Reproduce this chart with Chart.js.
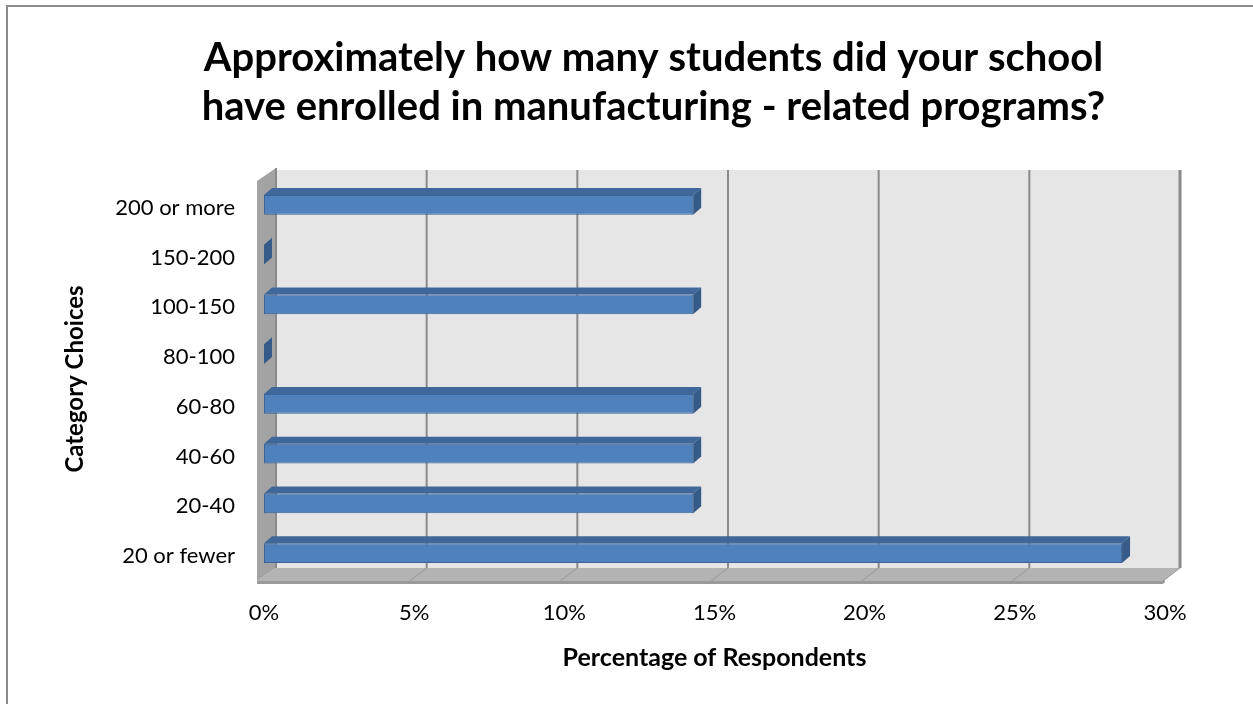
<!DOCTYPE html>
<html>
<head>
<meta charset="utf-8">
<script src="https://cdn.jsdelivr.net/npm/chart.js@4.4.1/dist/chart.umd.min.js"></script>
<style>
  html, body { margin: 0; padding: 0; background: #ffffff; }
  #wrap { width: 1253px; height: 704px; position: relative; }
</style>
</head>
<body>
<div id="wrap"><canvas id="chart" width="1253" height="704"></canvas></div>
<script>
// Survey answers, listed from the smallest enrolment band upwards
const categories = ['20 or fewer', '20-40', '40-60', '60-80', '80-100', '100-150', '150-200', '200 or more'];
const percentages = [28.57, 14.29, 14.29, 14.29, 0, 14.29, 0, 14.29];
const tickValues = [0, 5, 10, 15, 20, 25, 30];

const titleLines = ['Approximately how many students did your school',
                    'have enrolled in manufacturing - related programs?'];
const xTitle = 'Percentage of Respondents';
const yTitle = 'Category Choices';

const FONT = 'Lato, "Open Sans", sans-serif';

// Depth of the bars' top and side faces
const BAR_DX = 8, BAR_DY = 7;

// Excel-like 3D frame: back wall, left wall, floor and back-wall gridlines
const frame3d = {
  id: 'frame3d',
  beforeDraw(chart) {
    const { ctx, chartArea: a, scales: { x } } = chart;
    const back = v => x.getPixelForValue(v) + 12 + 3 * (v / 30);
    const bx0 = back(0), bx1 = back(30);
    const wTop = a.top - 10, wBot = a.bottom - 10;
    const fFront = a.bottom + 3;

    ctx.save();
    ctx.fillStyle = '#ffffff';
    ctx.fillRect(0, 0, chart.width, chart.height);

    // outer chart border
    ctx.strokeStyle = '#8c8c8c';
    ctx.lineWidth = 2;
    ctx.beginPath();
    ctx.moveTo(7, chart.height + 5);
    ctx.lineTo(7, 6);
    ctx.lineTo(chart.width + 5, 6);
    ctx.stroke();

    // back wall
    ctx.fillStyle = '#e6e6e6';
    ctx.fillRect(bx0, wTop, bx1 - bx0, wBot - wTop);

    // floor
    const fx0 = bx0 - 19, fx1 = bx1 - 17;
    ctx.fillStyle = '#b3b3b3';
    ctx.beginPath();
    ctx.moveTo(fx0, fFront);
    ctx.lineTo(bx0, wBot);
    ctx.lineTo(bx1, wBot);
    ctx.lineTo(fx1, fFront);
    ctx.closePath();
    ctx.fill();
    ctx.fillStyle = '#9a9a9a';
    ctx.beginPath();
    ctx.moveTo(fx0, fFront);
    ctx.lineTo(fx1, fFront);
    ctx.lineTo(fx1 + 2, fFront - 1);
    ctx.lineTo(fx1 + 2, fFront + 1);
    ctx.lineTo(fx1, fFront + 3);
    ctx.lineTo(fx0, fFront + 3);
    ctx.closePath();
    ctx.fill();

    // left wall
    ctx.fillStyle = '#a3a3a3';
    ctx.beginPath();
    ctx.moveTo(fx0, a.top + 1);
    ctx.lineTo(bx0, wTop - 2);
    ctx.lineTo(bx0, wBot);
    ctx.lineTo(fx0, fFront);
    ctx.closePath();
    ctx.fill();
    ctx.strokeStyle = '#8a8a8a';
    ctx.lineWidth = 2;
    ctx.beginPath();
    ctx.moveTo(bx0, wTop - 2);
    ctx.lineTo(bx0, wBot);
    ctx.stroke();

    // gridlines on the back wall, continued across the floor
    tickValues.forEach(v => {
      if (v === 0) return;
      const px = back(v);
      ctx.strokeStyle = '#8a8a8a';
      ctx.lineWidth = v === 30 ? 3 : 2;
      ctx.beginPath();
      ctx.moveTo(px, wTop);
      ctx.lineTo(px, wBot);
      ctx.stroke();
      ctx.lineWidth = 1;
      ctx.strokeStyle = '#9a9a9a';
      ctx.beginPath();
      ctx.moveTo(px, wBot);
      ctx.lineTo(px - 17, fFront);
      ctx.stroke();
    });
    ctx.restore();
  },
  afterDatasetsDraw(chart) {
    const { ctx } = chart;
    const meta = chart.getDatasetMeta(0);
    ctx.save();
    meta.data.forEach(bar => {
      const { x, y, base, height } = bar.getProps(['x', 'y', 'base', 'height'], true);
      const t = y - height / 2, b = y + height / 2;
      // top face
      ctx.fillStyle = '#3f679a';
      ctx.beginPath();
      ctx.moveTo(base, t);
      ctx.lineTo(base + BAR_DX, t - BAR_DY);
      ctx.lineTo(x + BAR_DX, t - BAR_DY);
      ctx.lineTo(x, t);
      ctx.closePath();
      ctx.fill();
      // side face
      ctx.fillStyle = '#365b89';
      ctx.beginPath();
      ctx.moveTo(x, t);
      ctx.lineTo(x + BAR_DX, t - BAR_DY);
      ctx.lineTo(x + BAR_DX, b - BAR_DY);
      ctx.lineTo(x, b);
      ctx.closePath();
      ctx.fill();
    });
    ctx.restore();
  }
};

new Chart(document.getElementById('chart'), {
  type: 'bar',
  data: {
    labels: categories,
    datasets: [{
      data: percentages,
      backgroundColor: '#4f81bd',
      borderColor: '#3c6497',
      borderWidth: 1,
      borderSkipped: false,
      barPercentage: 0.4,
      categoryPercentage: 1.0
    }]
  },
  options: {
    indexAxis: 'y',
    responsive: false,
    animation: false,
    events: [],
    layout: { padding: { left: 54, right: 0, top: 0, bottom: 0 } },
    plugins: {
      legend: { display: false },
      tooltip: { enabled: false },
      title: {
        display: true,
        text: titleLines,
        color: '#000000',
        font: { family: FONT, size: 40, weight: 'bold', lineHeight: 1.225 },
        padding: { top: 33.5, bottom: 48.5 }
      }
    },
    scales: {
      x: {
        type: 'linear',
        min: 0,
        max: 30,
        afterBuildTicks(scale) { scale.ticks = tickValues.map(v => ({ value: v })); },
        afterFit(scale) { scale.height = 126; },
        grid: { display: false, drawTicks: false },
        border: { display: false },
        ticks: {
          padding: 22,
          color: '#000000',
          font: { family: FONT, size: 22 },
          callback: v => v + '%'
        },
        title: {
          display: true,
          text: xTitle,
          color: '#000000',
          font: { family: FONT, size: 25, weight: 'bold', lineHeight: 1.2 },
          padding: { top: 0, bottom: 31 }
        }
      },
      y: {
        reverse: true,
        afterFit(scale) { scale.width = 210; },
        grid: { display: false, drawTicks: false },
        border: { display: false },
        ticks: {
          padding: 29,
          labelOffset: 3,
          color: '#000000',
          font: { family: FONT, size: 22 }
        },
        title: {
          display: true,
          text: yTitle,
          color: '#000000',
          font: { family: FONT, size: 24, weight: 'bold', lineHeight: 1.2 },
          padding: { top: 7, bottom: 0 }
        }
      },
      // empty right-hand strip that keeps the plot clear of the canvas edge
      yRight: {
        type: 'category',
        position: 'right',
        afterFit(scale) { scale.width = 88; },
        grid: { display: false, drawTicks: false },
        border: { display: false },
        ticks: { display: false }
      }
    }
  },
  plugins: [frame3d]
});
</script>
</body>
</html>
